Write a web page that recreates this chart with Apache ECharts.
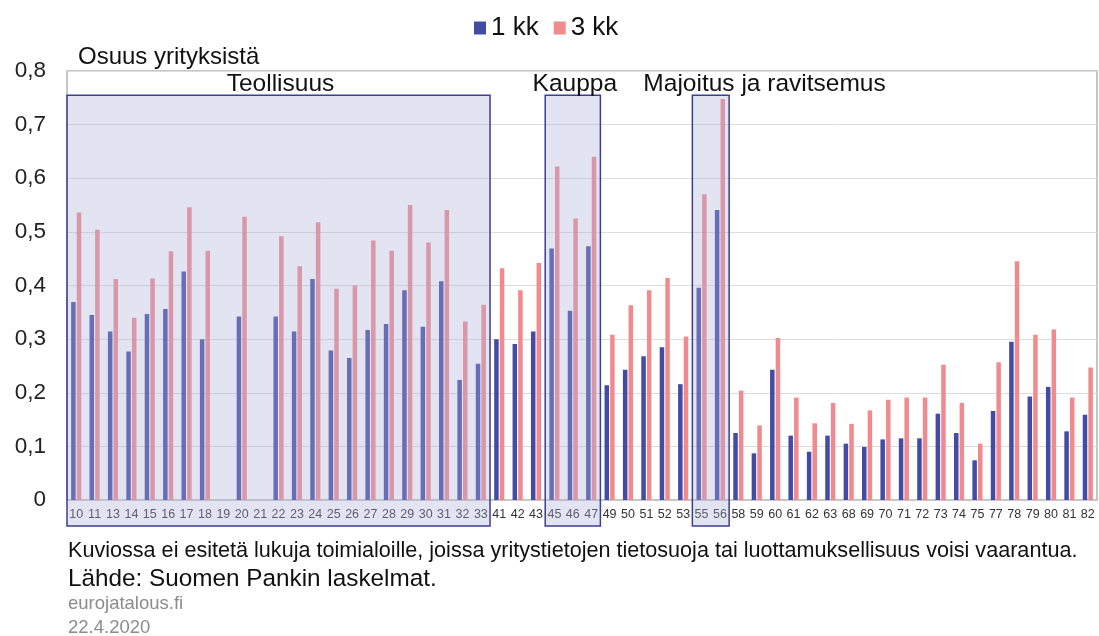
<!DOCTYPE html>
<html>
<head>
<meta charset="utf-8">
<script src="https://cdn.jsdelivr.net/npm/echarts@6/dist/echarts.min.js"></script>
<style>
html,body{margin:0;padding:0;background:#fff;}
#c{width:1099px;height:636px;}
</style>
</head>
<body>
<div id="c"></div>
<script>
const categories = ['10','11','13','14','15','16','17','18','19','20','21','22','23','24','25','26','27','28','29','30','31','32','33','41','42','43','45','46','47','49','50','51','52','53','55','56','58','59','60','61','62','63','68','69','70','71','72','73','74','75','77','78','79','80','81','82'];
const oneMonth = [0.369,0.345,0.314,0.277,0.347,0.356,0.426,0.300,null,0.342,null,0.342,0.314,0.412,0.279,0.265,0.317,0.328,0.391,0.323,0.408,0.224,0.254,0.300,0.291,0.314,0.469,0.353,0.473,0.214,0.243,0.268,0.285,0.216,0.396,0.541,0.125,0.087,0.243,0.120,0.090,0.120,0.105,0.099,0.113,0.115,0.115,0.161,0.125,0.074,0.166,0.295,0.193,0.211,0.128,0.159];
const threeMonth = [0.536,0.504,0.412,0.340,0.413,0.464,0.546,0.465,null,0.528,null,0.492,0.436,0.518,0.394,0.400,0.484,0.465,0.550,0.480,0.541,0.333,0.364,0.432,0.391,0.442,0.622,0.525,0.640,0.308,0.363,0.391,0.414,0.305,0.570,0.748,0.204,0.139,0.302,0.191,0.143,0.181,0.142,0.167,0.187,0.191,0.191,0.252,0.181,0.105,0.257,0.445,0.308,0.318,0.191,0.247];
const seriesNames = ['1 kk','3 kk'];
const yTicks = [0,0.1,0.2,0.3,0.4,0.5,0.6,0.7,0.8];
const groups = [
  {name:'Teollisuus', from:'10', to:'33'},
  {name:'Kauppa', from:'45', to:'47'},
  {name:'Majoitus ja ravitsemus', from:'55', to:'56'}
];
const yAxisName = 'Osuus yrityksistä';
const footLines = [
  'Kuviossa ei esitetä lukuja toimialoille, joissa yritystietojen tietosuoja tai luottamuksellisuus voisi vaarantua.',
  'Lähde: Suomen Pankin laskelmat.'
];
const sourceLines = ['eurojatalous.fi','22.4.2020'];

const FONT = 'Liberation Sans, Arial, sans-serif';
const chart = echarts.init(document.getElementById('c'), null, {renderer:'canvas'});
const option = {
  animation:false,
  backgroundColor:'#fff',
  textStyle:{fontFamily:FONT},
  legend:{
    data:seriesNames, left:469, top:10, itemWidth:12, itemHeight:13, itemGap:15,
    textStyle:{fontSize:26, color:'#111', fontFamily:FONT}, icon:'rect'
  },
  grid:{left:67, right:2, top:71, bottom:136, show:true, borderColor:'#b4b4b4', borderWidth:1.5},
  xAxis:{
    type:'category', data:categories,
    axisTick:{show:false},
    axisLine:{lineStyle:{color:'#c8c8c8'}},
    axisLabel:{interval:0, fontSize:12.5, color:'#333', margin:8, fontFamily:FONT}
  },
  yAxis:{
    type:'value', min:yTicks[0], max:yTicks[yTicks.length-1], interval:0.1,
    axisLine:{show:false}, axisTick:{show:false},
    splitLine:{lineStyle:{color:'#dcdcdc', width:1}},
    axisLabel:{fontSize:22.5, color:'#222', margin:21, fontFamily:FONT,
      formatter:v=> v===0 ? '0' : v.toFixed(1).replace('.', ',')}
  },
  series:[
    {name:seriesNames[0], type:'bar', data:oneMonth, barWidth:4.5, barGap:'25%', itemStyle:{color:'#434ba2'}},
    {name:seriesNames[1], type:'bar', data:threeMonth, barWidth:4.5, barGap:'25%', itemStyle:{color:'#ef8a8f'}}
  ]
};
chart.setOption(option);

function buildGraphics(){
  const els = [];
  const px = i => chart.convertToPixel({xAxisIndex:0}, i);
  const py = v => chart.convertToPixel({yAxisIndex:0}, v);
  const band = px(1) - px(0);
  const yTop = py(0.755), yZero = py(0), yMax = py(0.8);
  groups.forEach((g, k) => {
    const i0 = categories.indexOf(g.from), i1 = categories.indexOf(g.to);
    const x0 = px(i0) - band/2, x1 = px(i1) + band/2;
    els.push({type:'rect', z:100, shape:{x:x0, y:yTop, width:x1-x0, height:(yZero+26)-yTop},
      style:{fill:'rgba(176,178,218,0.35)', stroke:'#3b3f8e', lineWidth:1.5}});
    const cx = (x0+x1)/2;
    const isLast = k === groups.length-1;
    els.push({type:'text', z:101, x: isLast ? x0-49 : cx+2, y:(yMax+yTop)/2 + 1,
      style:{text:g.name, fontSize:24.5, fill:'#111', fontFamily:FONT,
        textAlign: isLast ? 'left' : 'center', textVerticalAlign:'middle'}});
  });
  const left = px(0) - band/2;
  els.push({type:'text', x:left+11, y:yMax-14, style:{text:yAxisName, fontSize:24, fill:'#111', fontFamily:FONT, textVerticalAlign:'middle'}});
  const footSizes = [21.6, 24.3];
  footLines.forEach((t, i) => {
    els.push({type:'text', x:left+1, y:551+i*28, style:{text:t, fontSize:footSizes[i], fill:'#111', fontFamily:FONT, textVerticalAlign:'middle'}});
  });
  sourceLines.forEach((t, i) => {
    els.push({type:'text', x:left+1, y:604+i*24, style:{text:t, fontSize:18.5, fill:'#8c8c8c', fontFamily:FONT, textVerticalAlign:'middle'}});
  });
  chart.setOption({graphic:{elements:els}});
}
buildGraphics();
</script>
</body>
</html>
